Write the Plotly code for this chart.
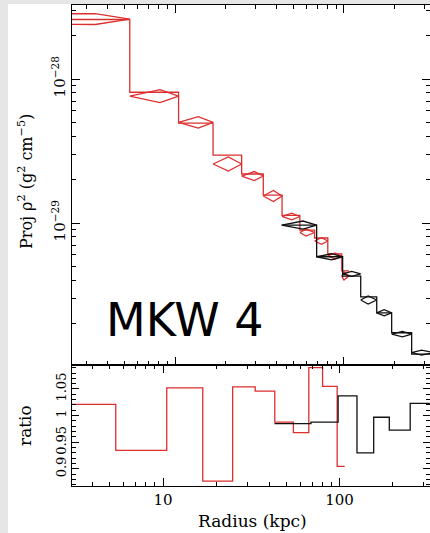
import plotly.graph_objects as go

# ---------------- data ----------------
# red profile (bins in kpc)
red_edges = [0.0, 5.4, 10.5, 16.8, 24.8, 33.3, 43.0, 54.8, 67.0, 80.2, 97.0, 107.0]
red_proj = [2.59e-28, 8.09e-29, 4.94e-29, 2.96e-29, 2.19e-29, 1.56e-29,
            1.13e-29, 8.93e-30, 7.87e-30, 6.10e-30, 4.65e-30]
red_model = [2.61e-28, 7.60e-29, 5.00e-29, 2.57e-29, 2.12e-29, 1.54e-29,
             1.11e-29, 8.59e-30, 7.50e-30, 5.90e-30, 4.28e-30]
red_model_err_dex = [0.038, 0.045, 0.040, 0.049, 0.031, 0.038,
                     0.023, 0.024, 0.023, 0.021, 0.028]
red_model_r = [3.37, 8.15, 13.74, 20.7, 29.5, 38.2, 49.1, 59.6, 73.6, 88.5, 100.0]
red_ratio = [1.021, 0.935, 1.052, 0.877, 1.054, 1.046, 0.988, 0.968, 1.090, 1.055, 0.905]

# black profile
black_edges = [42.8, 68.9, 98.2, 125.6, 156.2, 191.5, 251.5, 340.0]
black_proj = [9.68e-30, 5.83e-30, 4.28e-30, 3.07e-30, 2.38e-30, 1.73e-30, 1.23e-30]
black_model = [9.68e-30, 5.83e-30, 4.43e-30, 2.92e-30, 2.38e-30, 1.69e-30, 1.26e-30]
black_model_err_dex = [0.028, 0.021, 0.017, 0.028, 0.021, 0.019, 0.017]
black_model_r = [57.2, 84.5, 111.0, 139.0, 173.0, 222.0, 288.0]
black_ratio = [0.985, 0.988, 1.037, 0.930, 0.997, 0.973, 1.023]

# ticks
x_major = [10, 100]
x_minor = [3, 4, 5, 6, 7, 8, 9, 20, 30, 40, 50, 60, 70, 80, 90, 200, 300]
y_major = [1e-30, 1e-29, 1e-28]
y_major_text = ["10<sup>\u221230</sup>", "10<sup>\u221229</sup>", "10<sup>\u221228</sup>"]
y_minor = [m * 10.0 ** e for e in (-30, -29, -28) for m in (2, 3, 4, 5, 6, 7, 8, 9)]
r_major = [0.9, 0.95, 1.0, 1.05]
r_major_text = ["0.9", "0.95", "1", "1.05"]

RED = "#dd2e2e"
BLK = "#111111"
W, H = 430, 533


def floor_r(v):
    return max(v, 1e-3)


def step_xy(edges, vals):
    xs = [floor_r(e) for e in edges]
    ys = list(vals) + [vals[-1]]
    return xs, ys


def diamonds(edges, mid, centre, err):
    xs, ys = [], []
    for i in range(len(centre)):
        xl, xr = floor_r(edges[i]), edges[i + 1]
        c, f = centre[i], 10 ** err[i]
        xs += [xl, mid[i], xr, mid[i], xl, None]
        ys += [c, c * f, c, c / f, c, None]
    return xs, ys


fig = go.Figure()

# main panel
x, y = step_xy(red_edges, red_proj)
fig.add_trace(go.Scatter(x=x, y=y, mode="lines", line=dict(color=RED, width=1.3, shape="hv"),
                         xaxis="x", yaxis="y", hoverinfo="skip"))
x, y = diamonds(red_edges, red_model_r, red_model, red_model_err_dex)
fig.add_trace(go.Scatter(x=x, y=y, mode="lines", line=dict(color=RED, width=1.3),
                         xaxis="x", yaxis="y", hoverinfo="skip"))
x, y = step_xy(black_edges, black_proj)
fig.add_trace(go.Scatter(x=x, y=y, mode="lines", line=dict(color=BLK, width=1.3, shape="hv"),
                         xaxis="x", yaxis="y", hoverinfo="skip"))
x, y = diamonds(black_edges, black_model_r, black_model, black_model_err_dex)
fig.add_trace(go.Scatter(x=x, y=y, mode="lines", line=dict(color=BLK, width=1.3),
                         xaxis="x", yaxis="y", hoverinfo="skip"))

# ratio panel
x, y = step_xy(red_edges, red_ratio)
fig.add_trace(go.Scatter(x=x, y=y, mode="lines", line=dict(color=RED, width=1.3, shape="hv"),
                         xaxis="x2", yaxis="y2", hoverinfo="skip"))
x, y = step_xy(black_edges, black_ratio)
fig.add_trace(go.Scatter(x=x, y=y, mode="lines", line=dict(color=BLK, width=1.3, shape="hv"),
                         xaxis="x2", yaxis="y2", hoverinfo="skip"))

FONT = "DejaVu Serif"
ax_common = dict(showline=True, linecolor="black", linewidth=1.4, mirror="allticks",
                 ticks="inside", tickcolor="black", showgrid=False, zeroline=False)

xdom = [72 / W, 1.0]
main_y = [1 - 365 / H, 1 - 5 / H]
ratio_y = [1 - 486 / H, 1 - 365 / H]

fig.update_layout(
    width=W, height=H, margin=dict(l=0, r=0, t=0, b=0),
    paper_bgcolor="white", plot_bgcolor="white", showlegend=False,
    xaxis=dict(type="log", range=[0.3905, 2.509], domain=xdom, anchor="y",
               tickmode="array", tickvals=x_major, showticklabels=False, ticklen=8,
               minor=dict(tickmode="array", tickvals=x_minor, ticks="inside", ticklen=4,
                          tickcolor="black", showgrid=False), **ax_common),
    yaxis=dict(type="log", range=[-29.986, -27.486], domain=main_y, anchor="x",
               tickmode="array", tickvals=y_major, ticktext=y_major_text, tickangle=-90,
               ticklen=8, tickfont=dict(family=FONT, size=15, color="black"),
               minor=dict(tickmode="array", tickvals=y_minor, ticks="inside", ticklen=4,
                          tickcolor="black", showgrid=False), **ax_common),
    xaxis2=dict(type="log", range=[0.4844, 2.5127], domain=xdom, anchor="y2",
                tickmode="array", tickvals=x_major, ticktext=["10", "100"], ticklen=8,
                tickfont=dict(family=FONT, size=15, color="black"),
                minor=dict(tickmode="array", tickvals=x_minor, ticks="inside", ticklen=4,
                           tickcolor="black", showgrid=False), **ax_common),
    yaxis2=dict(range=[0.868, 1.095], domain=ratio_y, anchor="x2",
                tickmode="array", tickvals=r_major, ticktext=r_major_text, tickangle=-90,
                ticklen=7, tickfont=dict(family=FONT, size=13, color="black"),
                minor=dict(dtick=0.01, tick0=0, ticks="inside", ticklen=4,
                           tickcolor="black", showgrid=False), **ax_common),
    shapes=[
        dict(type="rect", xref="paper", yref="paper", x0=0, x1=8 / W, y0=0, y1=1,
             fillcolor="#e6e6e6", line=dict(width=0), layer="below"),
        dict(type="rect", xref="paper", yref="paper", x0=0, x1=1, y0=1 - 4 / H, y1=1,
             fillcolor="#e6e6e6", line=dict(width=0), layer="below"),
    ],
    annotations=[
        dict(text="Proj \u03c1<sup>2</sup> (g<sup>2</sup> cm<sup>\u22125</sup>)", textangle=-90,
             x=25 / W, y=1 - 182 / H, xref="paper", yref="paper", showarrow=False,
             xanchor="center", yanchor="middle",
             font=dict(family=FONT, size=16, color="black")),
        dict(text="ratio", textangle=-90, x=25 / W, y=1 - 426 / H, xref="paper", yref="paper",
             showarrow=False, xanchor="center", yanchor="middle",
             font=dict(family=FONT, size=17, color="black")),
        dict(text="Radius (kpc)", x=253 / W, y=1 - 521 / H, xref="paper", yref="paper",
             showarrow=False, xanchor="center", yanchor="middle",
             font=dict(family=FONT, size=17, color="black")),
        dict(text="MKW 4", x=185 / W, y=1 - 320 / H, xref="paper", yref="paper",
             showarrow=False, xanchor="center", yanchor="middle",
             font=dict(family="DejaVu Sans", size=46, color="black")),
    ],
)

fig.write_html("out.html")
